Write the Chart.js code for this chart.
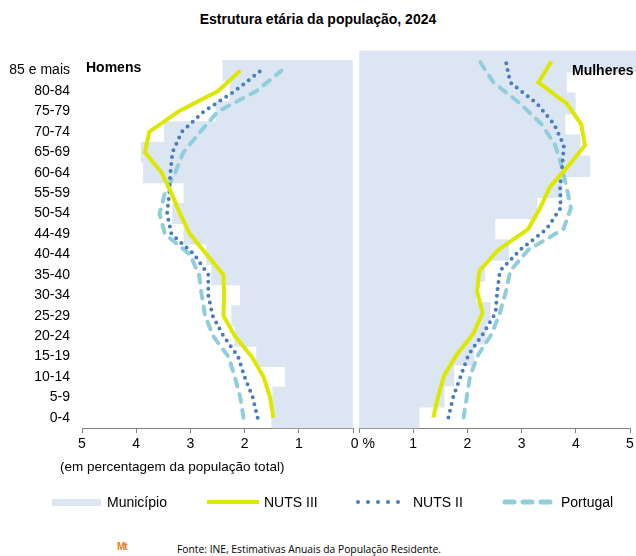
<!DOCTYPE html>
<html><head><meta charset="utf-8">
<script src="https://cdn.jsdelivr.net/npm/chart.js@4/dist/chart.umd.min.js"></script>
<style>
body{margin:0;background:#fff;font-family:"Liberation Sans",Arial,sans-serif;}
#wrap{position:relative;width:636px;height:556px;overflow:hidden;}
.abs{position:absolute;white-space:nowrap;}
#title{left:0;width:636px;top:11px;text-align:center;font-weight:bold;font-size:14px;color:#000;}
.side{font-weight:bold;font-size:14px;color:#000;}
#note{left:60px;top:459px;font-size:13.5px;color:#000;}
.leg{font-size:14px;color:#000;top:494px;}
#foot{left:177px;top:542px;font-family:"Open Sans",sans-serif;font-size:10.3px;color:#000;}
#logo{left:117px;top:541px;font-family:"Liberation Sans",sans-serif;font-weight:bold;font-size:10px;color:#e8801a;letter-spacing:-1px;}
</style></head>
<body><div id="wrap">
<div id="title" class="abs">Estrutura etária da população, 2024</div>
<canvas id="cm" class="abs" style="left:0;top:40px" width="358" height="420"></canvas>
<canvas id="cw" class="abs" style="left:336px;top:40px" width="300" height="420"></canvas>
<div class="abs side" style="left:86px;top:59px">Homens</div>
<div class="abs side" style="left:572px;top:62px">Mulheres</div>
<div id="note" class="abs">(em percentagem da população total)</div>
<div class="abs" style="left:52px;top:499px;width:49px;height:7px;background:#dce6f2"></div>
<div class="abs leg" style="left:107px">Município</div>
<svg class="abs" style="left:205px;top:497px" width="56" height="10"><line x1="2" y1="5" x2="54" y2="5" stroke="#dde800" stroke-width="4"/></svg>
<div class="abs leg" style="left:264px">NUTS III</div>
<svg class="abs" style="left:355px;top:497px" width="56" height="10"><line x1="3" y1="5" x2="53" y2="5" stroke="#4a7ebb" stroke-width="4" stroke-linecap="round" stroke-dasharray="0 10"/></svg>
<div class="abs leg" style="left:413px">NUTS II</div>
<svg class="abs" style="left:501px;top:497px" width="56" height="10"><line x1="4" y1="5" x2="52" y2="5" stroke="#92cddc" stroke-width="5" stroke-linecap="round" stroke-dasharray="9 9"/></svg>
<div class="abs leg" style="left:561px">Portugal</div>
<div id="logo" class="abs">Mt</div>
<div id="foot" class="abs">Fonte: INE, Estimativas Anuais da População Residente.</div>
</div>
<script>
// Age groups, bottom (youngest) to top (oldest)
const ageGroups = ['0-4','5-9','10-14','15-19','20-24','25-29','30-34','35-40','40-44','44-49','50-54','55-59','60-64','65-69','70-74','75-79','80-84','85 e mais'];
const xTicks = [0,1,2,3,4,5];

// Homens (% of total population)
const menMunicipio = [1.50,1.48,1.25,1.78,2.18,2.24,2.08,2.61,2.70,3.12,3.33,3.12,3.87,3.91,3.48,2.53,2.27,2.40];
const menNuts3     = [1.47,1.53,1.65,1.87,2.18,2.39,2.38,2.39,2.70,3.01,3.19,3.35,3.53,3.84,3.76,3.22,2.49,2.08];
const menNuts2     = [1.76,1.85,2.00,2.12,2.39,2.59,2.67,2.67,2.93,3.35,3.43,3.39,3.37,3.33,3.16,2.75,2.18,1.70];
const menPortugal  = [2.02,2.08,2.18,2.30,2.58,2.73,2.79,2.84,3.01,3.47,3.57,3.47,3.28,3.13,2.82,2.49,1.78,1.32];

// Mulheres (% of total population)
const womenMunicipio = [1.11,1.57,1.75,2.12,2.34,2.42,2.16,2.32,2.76,2.51,3.28,3.75,4.26,4.08,3.80,3.99,3.83,5.30];
const womenNuts3     = [1.37,1.46,1.57,1.80,2.11,2.28,2.18,2.22,2.57,3.12,3.34,3.52,3.86,4.17,4.10,3.83,3.31,3.55];
const womenNuts2     = [1.65,1.74,1.88,2.02,2.29,2.52,2.55,2.60,2.97,3.46,3.72,3.71,3.75,3.78,3.60,3.28,2.79,2.71];
const womenPortugal  = [1.93,1.99,2.05,2.20,2.45,2.60,2.71,2.79,3.12,3.77,3.91,3.83,3.74,3.62,3.37,2.97,2.48,2.23];

const C_MUN='#dce6f2', C_N3='#dde800', C_N2='#4a7ebb', C_PT='#92cddc';
const FONT={family:'"Liberation Sans", Arial, sans-serif', size:14};

function datasets(mun,n3,n2,pt){
  return [
    {type:'bar',label:'Município',data:mun,backgroundColor:C_MUN,borderWidth:0,
     categoryPercentage:1,barPercentage:1,order:10,clip:false},
    {type:'line',label:'Portugal',data:pt,borderColor:C_PT,borderWidth:4,borderDash:[8,8],
     borderCapStyle:'round',pointRadius:0,tension:0,fill:false,order:3},
    {type:'line',label:'NUTS II',data:n2,borderColor:C_N2,borderWidth:4,borderDash:[0,7],
     borderCapStyle:'round',pointRadius:0,tension:0,fill:false,order:2},
    {type:'line',label:'NUTS III',data:n3,borderColor:C_N3,borderWidth:4,
     borderJoinStyle:'miter',pointRadius:0,tension:0,fill:false,order:1}
  ];
}

function xScale(reverse, zeroLabel){
  return {type:'linear',min:0,max:5,reverse:reverse,
    afterBuildTicks:(s)=>{s.ticks=xTicks.map(v=>({value:v}));},
    afterFit:(s)=>{s.height=32;s.paddingLeft=0;s.paddingRight=0;},
    grid:{display:true,drawOnChartArea:false,drawTicks:true,tickLength:5,color:'#808080'},
    border:{display:true,color:'#808080',width:1},
    ticks:{font:FONT,color:'#000',padding:3,maxRotation:0,
      callback:(v)=> v===0 ? zeroLabel : String(v)}};
}

const common = {
  indexAxis:'y',responsive:false,animation:false,devicePixelRatio:1,
  plugins:{legend:{display:false},tooltip:{enabled:false}},
  events:[]
};

new Chart(document.getElementById('cm'),{
  data:{labels:ageGroups,datasets:datasets(menMunicipio,menNuts3,menNuts2,menPortugal)},
  options:Object.assign({},common,{
    layout:{padding:{top:11,right:5,left:0,bottom:0}},
    scales:{
      x:xScale(true,''),
      y:{type:'category',reverse:true,offset:true,
        afterFit:(s)=>{s.width=82;},
        grid:{display:false,drawTicks:false},border:{display:false},
        ticks:{font:FONT,color:'#000',padding:12,autoSkip:false}}
    }})
});

new Chart(document.getElementById('cw'),{
  data:{labels:ageGroups,datasets:datasets(womenMunicipio,womenNuts3,womenNuts2,womenPortugal)},
  options:Object.assign({},common,{
    layout:{padding:{top:11,right:6,left:23,bottom:0}},
    scales:{
      x:xScale(false,'  0 %'),
      y:{type:'category',reverse:true,offset:true,display:false}
    }})
});
</script>
</body></html>
